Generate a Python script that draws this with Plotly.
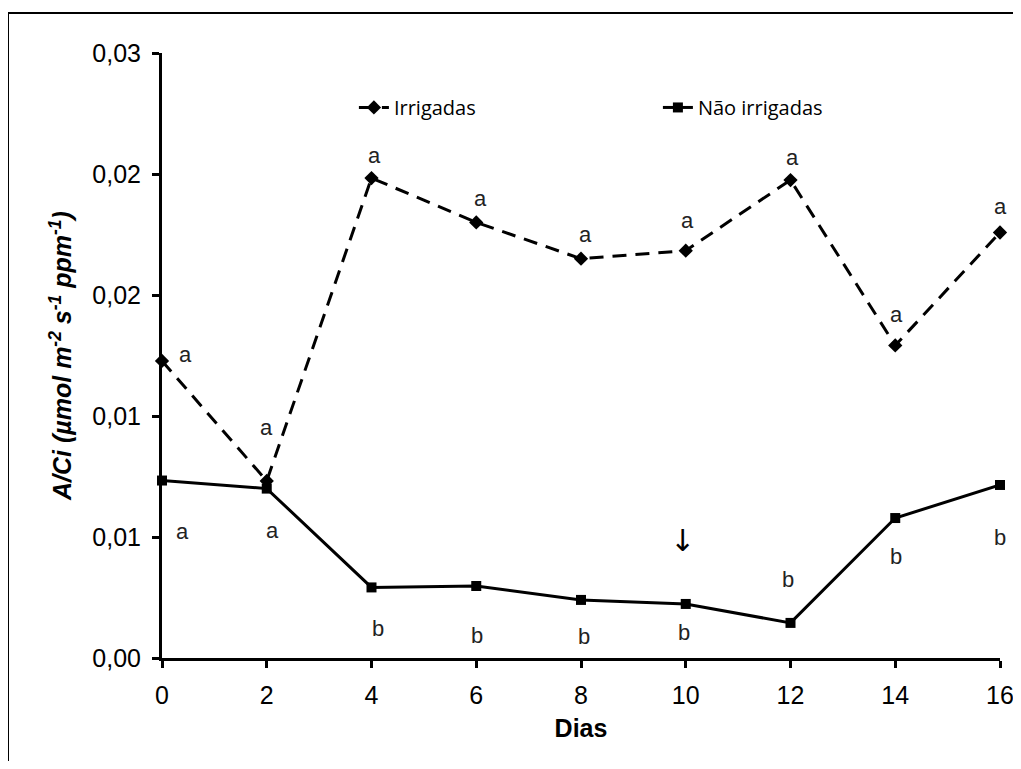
import plotly.graph_objects as go

dias = [0, 2, 4, 6, 8, 10, 12, 14, 16]
irrigadas = [0.01473, 0.00878, 0.0238, 0.0216, 0.0198, 0.0202, 0.0237, 0.0155, 0.0211]
nao_irrigadas = [0.0088, 0.0084, 0.0035, 0.00357, 0.00288, 0.00268, 0.00174, 0.00694, 0.00858]
letras_irrig = ["a", "a", "a", "a", "a", "a", "a", "a", "a"]
letras_nao = ["a", "a", "b", "b", "b", "b", "b", "b", "b"]
ytick_vals = [0, 0.006, 0.012, 0.018, 0.024, 0.03]
ytick_text = ["0,00", "0,01", "0,01", "0,02", "0,02", "0,03"]
xtick_vals = [0, 2, 4, 6, 8, 10, 12, 14, 16]

# pixel offsets for significance letters
off_irrig = [(23, 6), (0, 53), (3, 23), (4, 24), (4, 24), (2, 30), (2, 23), (1, 31), (0, 26)]
off_nao = [(20, -51), (6, -42), (6, -41), (1, -49), (3, -37), (-2, -29), (-3, 43), (1, -38), (0, -53)]

fig = go.Figure()
fig.add_trace(go.Scatter(
    x=dias, y=irrigadas, name="Irrigadas", mode="lines+markers",
    line=dict(color="black", width=3, dash="14px,9px"),
    marker=dict(symbol="diamond", size=11, color="black"),
    cliponaxis=False,
))
fig.add_trace(go.Scatter(
    x=dias, y=nao_irrigadas, name="Não irrigadas", mode="lines+markers",
    line=dict(color="black", width=3),
    marker=dict(symbol="square", size=10, color="black"),
    cliponaxis=False,
))

annots = []
for x, y, t, (dx, dy) in zip(dias, irrigadas, letras_irrig, off_irrig):
    annots.append(dict(x=x, y=y, text=t, showarrow=False, xshift=dx, yshift=dy,
                       font=dict(family="Liberation Sans", size=22, color="#222")))
for x, y, t, (dx, dy) in zip(dias, nao_irrigadas, letras_nao, off_nao):
    annots.append(dict(x=x, y=y, text=t, showarrow=False, xshift=dx, yshift=dy,
                       font=dict(family="Liberation Sans", size=22, color="#222")))
annots.append(dict(x=10, y=0.00585, text="↓", showarrow=False, xshift=-3,
                   font=dict(family="DejaVu Sans", size=30, color="black")))

W, H = 1013, 753
L, T, PW, PH = 154, 45, 838, 605

# outer frame: left and top edges (right/bottom fall outside the picture)
fx0 = (0 - L) / PW
fx1 = (1100 - L) / PW
fy0 = -(H - T - PH + 60) / PH
fy1 = (PH + T - 5) / PH

fig.update_layout(
    width=W, height=H,
    margin=dict(l=L, r=W - L - PW, t=T, b=H - T - PH, autoexpand=False),
    paper_bgcolor="white", plot_bgcolor="white",
    showlegend=True,
    legend=dict(orientation="h", x=0.229, y=0.91, xanchor="left", yanchor="middle",
                font=dict(family="Open Sans", size=20, color="black"),
                entrywidth=259, entrywidthmode="pixels", bgcolor="rgba(0,0,0,0)"),
    annotations=annots,
    xaxis=dict(range=[0, 16], tickvals=xtick_vals, showgrid=False, zeroline=False,
               showline=True, linecolor="black", linewidth=3, ticks="outside",
               ticklen=7, tickwidth=3, tickcolor="black", ticklabelstandoff=6,
               ticklabeloverflow="allow",
               tickfont=dict(family="Liberation Sans", size=25, color="black"),
               title=dict(text="<b>Dias</b>", standoff=12,
                          font=dict(family="Liberation Sans", size=25, color="black"))),
    yaxis=dict(range=[0, 0.03], tickvals=ytick_vals, ticktext=ytick_text, showgrid=False,
               zeroline=False, showline=True, linecolor="black", linewidth=3,
               ticks="outside", ticklen=7, tickwidth=3, tickcolor="black",
               ticklabelstandoff=6,
               tickfont=dict(family="Liberation Sans", size=25, color="black"),
               title=dict(text="<b><i>A/Ci (µmol m<sup>-2</sup> s<sup>-1</sup> ppm<sup>-1</sup>)</i></b>",
                          standoff=14,
                          font=dict(family="Liberation Sans", size=25, color="black"))),
    shapes=[dict(type="path", xref="paper", yref="paper",
                 path=f"M {fx0},{fy0} L {fx0},{fy1} L {fx1},{fy1}",
                 line=dict(color="black", width=2), layer="below")],
)

fig.write_html("out.html")
